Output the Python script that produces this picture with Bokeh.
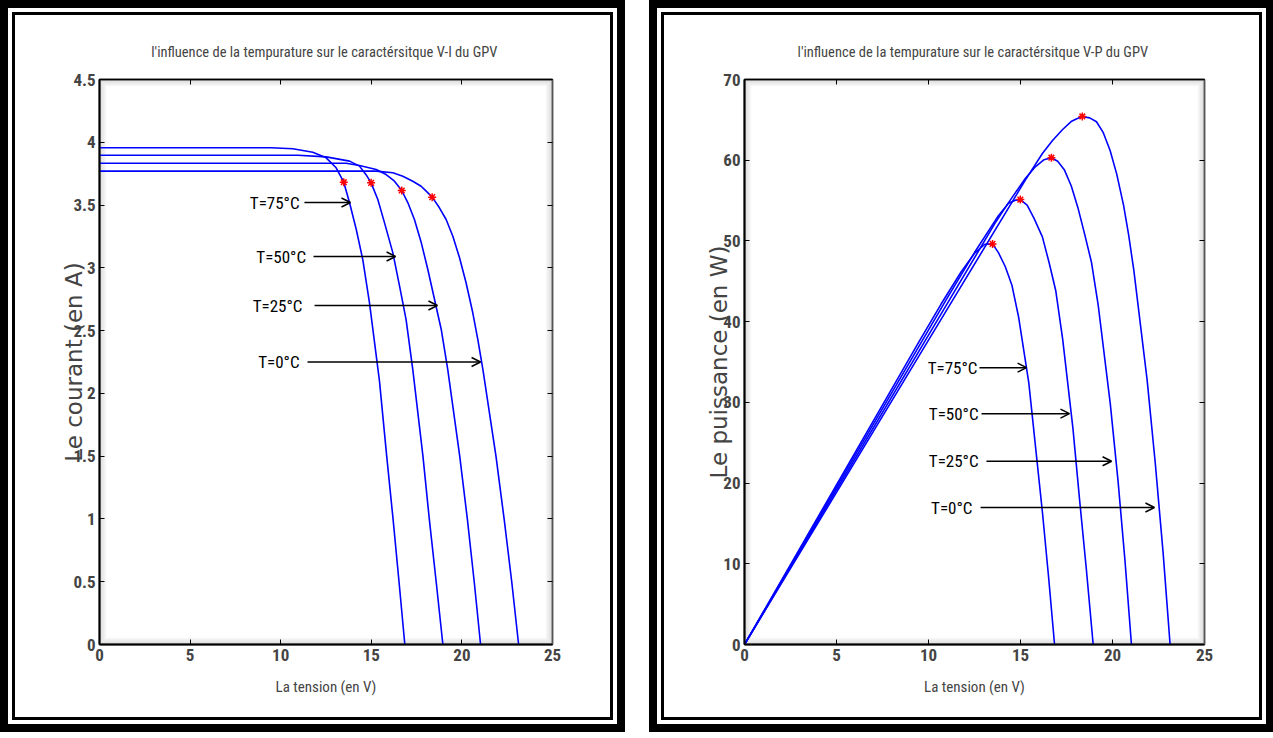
from bokeh.plotting import figure
from bokeh.models import (ColumnDataSource, LinearAxis, Arrow, OpenHead, FixedTicker, Range1d, BoxAnnotation)
from bokeh.layouts import row, column
from bokeh.core.properties import value
from bokeh.embed import file_html
from bokeh.resources import INLINE

# ---------------- data ----------------
temps = ["T=75°C", "T=50°C", "T=25°C", "T=0°C"]

v_75 = [0, 5, 9.47, 10.67, 11.77, 12.51, 13.06, 13.48, 13.80, 14.17, 14.53, 14.90, 15.45, 15.85, 16.20, 16.53, 16.85]
i_75 = [3.956, 3.956, 3.956, 3.948, 3.921, 3.876, 3.797, 3.682, 3.518, 3.305, 3.066, 2.721, 2.10, 1.5, 1.0, 0.5, 0]
p_75 = [0, 19.78, 37.46, 42.12, 46.15, 48.49, 49.59, 49.63, 48.55, 46.83, 44.55, 40.54, 32.45, 23.78, 16.20, 8.27, 0]

v_50 = [0, 5, 10.95, 12.51, 13.80, 14.35, 14.72, 14.99, 15.36, 15.73, 16.19, 16.56, 16.92, 17.29, 17.85, 18.20, 18.58, 18.95]
i_50 = [3.897, 3.897, 3.897, 3.884, 3.850, 3.810, 3.740, 3.677, 3.544, 3.358, 3.119, 2.854, 2.588, 2.19, 1.5, 1.0, 0.5, 0]
p_50 = [0, 19.49, 42.67, 48.59, 53.13, 54.67, 55.05, 55.12, 54.43, 52.82, 50.50, 47.26, 43.79, 37.87, 26.78, 18.20, 9.29, 0]

v_25 = [0, 5, 10, 13.61, 14.35, 15.27, 15.82, 16.28, 16.68, 17.02, 17.38, 17.76, 18.12, 18.49, 18.86, 19.22, 19.88, 20.30, 20.68, 21.03]
i_25 = [3.833, 3.833, 3.833, 3.833, 3.815, 3.783, 3.743, 3.690, 3.616, 3.518, 3.385, 3.199, 2.987, 2.748, 2.509, 2.19, 1.5, 1.0, 0.5, 0]
p_25 = [0, 19.17, 38.33, 52.17, 54.75, 57.77, 59.21, 60.07, 60.31, 59.88, 58.83, 56.81, 54.12, 50.81, 47.32, 42.09, 29.82, 20.30, 10.34, 0]

v_0 = [0, 5, 10, 15.27, 16.19, 16.74, 17.29, 17.75, 18.03, 18.36, 18.76, 19.13, 19.50, 19.87, 20.23, 20.60, 20.88, 21.16, 21.88, 22.33, 22.75, 23.13]
i_0 = [3.770, 3.770, 3.770, 3.770, 3.757, 3.730, 3.690, 3.650, 3.611, 3.563, 3.478, 3.385, 3.252, 3.080, 2.881, 2.642, 2.429, 2.19, 1.5, 1.0, 0.5, 0]
p_0 = [0, 18.85, 37.70, 57.57, 60.83, 62.44, 63.80, 64.79, 65.11, 65.42, 65.25, 64.76, 63.41, 61.20, 58.28, 54.43, 50.72, 46.34, 32.82, 22.33, 11.38, 0]

mpp_v = [13.48, 14.99, 16.68, 18.36]
mpp_i = [3.682, 3.677, 3.616, 3.563]
mpp_p = [49.63, 55.12, 60.31, 65.42]

x_ticks = [0, 5, 10, 15, 20, 25]
x_tick_labels = ["0", "5", "10", "15", "20", "25"]
iv_ticks = [0, 0.5, 1, 1.5, 2, 2.5, 3, 3.5, 4, 4.5]
iv_tick_labels = ["0", "0.5", "1", "1.5", "2", "2.5", "3", "3.5", "4", "4.5"]
pv_ticks = [0, 10, 20, 30, 40, 50, 60, 70]
pv_tick_labels = ["0", "10", "20", "30", "40", "50", "60", "70"]

# annotation anchors (label right edge, arrow start/end) in data units
iv_label_x = [11.04, 11.40, 11.20, 11.04]
iv_label_y = [3.52, 3.09, 2.70, 2.25]
iv_arrow_x0 = [11.31, 11.81, 11.87, 11.48]
iv_arrow_x1 = [13.85, 16.34, 18.65, 21.03]

pv_label_x = [12.66, 12.72, 12.72, 12.39]
pv_label_y = [34.3, 28.6, 22.7, 16.97]
pv_arrow_x0 = [12.77, 12.88, 13.15, 12.83]
pv_arrow_x1 = [15.33, 17.66, 19.95, 22.28]

iv_title = "l'influence de la tempurature sur le caractérsitque V-I du  GPV"
pv_title = "l'influence de la tempurature sur le caractérsitque V-P du  GPV"
x_label = "La tension (en V)"
iv_ylabel = "Le courant (en A)"
pv_ylabel = "Le puissance (en W)"

NARROW = "'Liberation Sans Narrow', 'Roboto Condensed', 'DejaVu Sans Condensed', 'Liberation Sans', sans-serif"
BLUE = "#0000ff"

FIG_W, FIG_H = 595, 702
TOP_B, BOT_B = 64, 73


def make_fig(title, ylabel, yend, yticks, ytlabels, curves_y, mpp_y,
             lab_x, lab_y, arr_x0, arr_x1, border_left, border_right, ylab_standoff):
    p = figure(width=FIG_W, height=FIG_H, x_range=Range1d(0, 25), y_range=Range1d(0, yend),
               output_backend="svg", toolbar_location=None,
               min_border_left=border_left, min_border_right=border_right,
               min_border_top=TOP_B, min_border_bottom=BOT_B)
    p.grid.visible = False
    p.background_fill_color = "white"
    p.border_fill_color = "white"
    p.outline_line_color = "black"
    p.outline_line_width = 1.5

    # soft inner shadow of the axes box (MATLAB export look)
    frame_w = FIG_W - border_left - border_right
    frame_h = FIG_H - TOP_B - BOT_B
    dx = 25.0 / frame_w
    dy = yend / frame_h
    for k in range(7):
        p.add_layout(BoxAnnotation(left=(k + 0.5) * dx, right=25 - (k + 0.5) * dx,
                                   bottom=(k + 0.5) * dy, top=yend - (k + 0.5) * dy,
                                   fill_color=None, line_color="#808080",
                                   line_alpha=0.30 * (1 - k / 7.0), line_width=1,
                                   level="underlay"))

    p.title.text = title
    p.title.align = "center"
    p.title.text_font = NARROW
    p.title.text_font_size = "14.5px"
    p.title.text_font_style = "normal"
    p.title.standoff = 37

    for ax in p.xaxis:
        ax.ticker = FixedTicker(ticks=x_ticks)
        ax.major_label_overrides = dict(zip(x_ticks, x_tick_labels))
        ax.axis_label = x_label
        ax.axis_label_text_font = NARROW
        ax.axis_label_text_font_size = "15px"
        ax.axis_label_text_font_style = "normal"
        ax.axis_label_standoff = 14
    for ax in p.yaxis:
        ax.ticker = FixedTicker(ticks=yticks)
        ax.major_label_overrides = dict(zip(yticks, ytlabels))
        ax.axis_label = ylabel
        ax.axis_label_text_font = "DejaVu Sans"
        ax.axis_label_text_font_size = "23px"
        ax.axis_label_text_font_style = "normal"
        ax.axis_label_standoff = ylab_standoff
    for ax in p.xaxis + p.yaxis:
        ax.major_tick_in = 5
        ax.major_tick_out = 0
        ax.minor_tick_line_color = None
        ax.axis_line_width = 2
        ax.major_label_text_font = NARROW
        ax.major_label_text_font_size = "17px"
        ax.major_label_text_font_style = "bold"
        ax.major_label_standoff = 4

    top = LinearAxis(ticker=FixedTicker(ticks=x_ticks), major_tick_in=5, major_tick_out=0,
                     minor_tick_line_color=None, major_label_text_color=None,
                     major_label_text_font_size="1px", axis_line_width=1.5, major_label_standoff=0)
    right = LinearAxis(ticker=FixedTicker(ticks=yticks), major_tick_in=5, major_tick_out=0,
                       minor_tick_line_color=None, major_label_text_color=None,
                       major_label_text_font_size="1px", axis_line_width=1.2, axis_line_color="#555555",
                       major_label_standoff=0)
    p.add_layout(top, "above")
    p.add_layout(right, "right")

    for vx, yy in zip([v_75, v_50, v_25, v_0], curves_y):
        p.line(vx, yy, line_color=BLUE, line_width=1.6)

    p.scatter(mpp_v, mpp_y, marker="asterisk", size=8, line_color="red", line_width=1.5)

    src = ColumnDataSource(dict(lx=lab_x, ly=lab_y, txt=temps, x0=arr_x0, x1=arr_x1))
    p.text(x="lx", y="ly", text="txt", source=src, text_align="right", text_baseline="middle",
           text_font=value(NARROW), text_font_size="17px", text_color="black")
    p.add_layout(Arrow(source=src, x_start="x0", y_start="ly", x_end="x1", y_end="ly",
                       line_color="black", line_width=1.5,
                       end=OpenHead(size=9, line_width=1.5, line_color="black")))
    return p


p1 = make_fig(iv_title, iv_ylabel, 4.5, iv_ticks, iv_tick_labels, [i_75, i_50, i_25, i_0], mpp_i,
              iv_label_x, iv_label_y, iv_arrow_x0, iv_arrow_x1, 84, 58, -17)
p2 = make_fig(pv_title, pv_ylabel, 70, pv_ticks, pv_tick_labels, [p_75, p_50, p_25, p_0], mpp_p,
              pv_label_x, pv_label_y, pv_arrow_x0, pv_arrow_x1, 80, 55, -12)


def panel(fig):
    inner = column(fig, styles={"border": "3px solid black", "background-color": "white"})
    return column(inner, styles={"border": "8px solid black", "padding": "4px",
                                 "background-color": "white"})


layout = row(panel(p1), panel(p2), spacing=24)

with open("out.html", "w") as f:
    f.write(file_html(layout, INLINE, title="GPV"))
